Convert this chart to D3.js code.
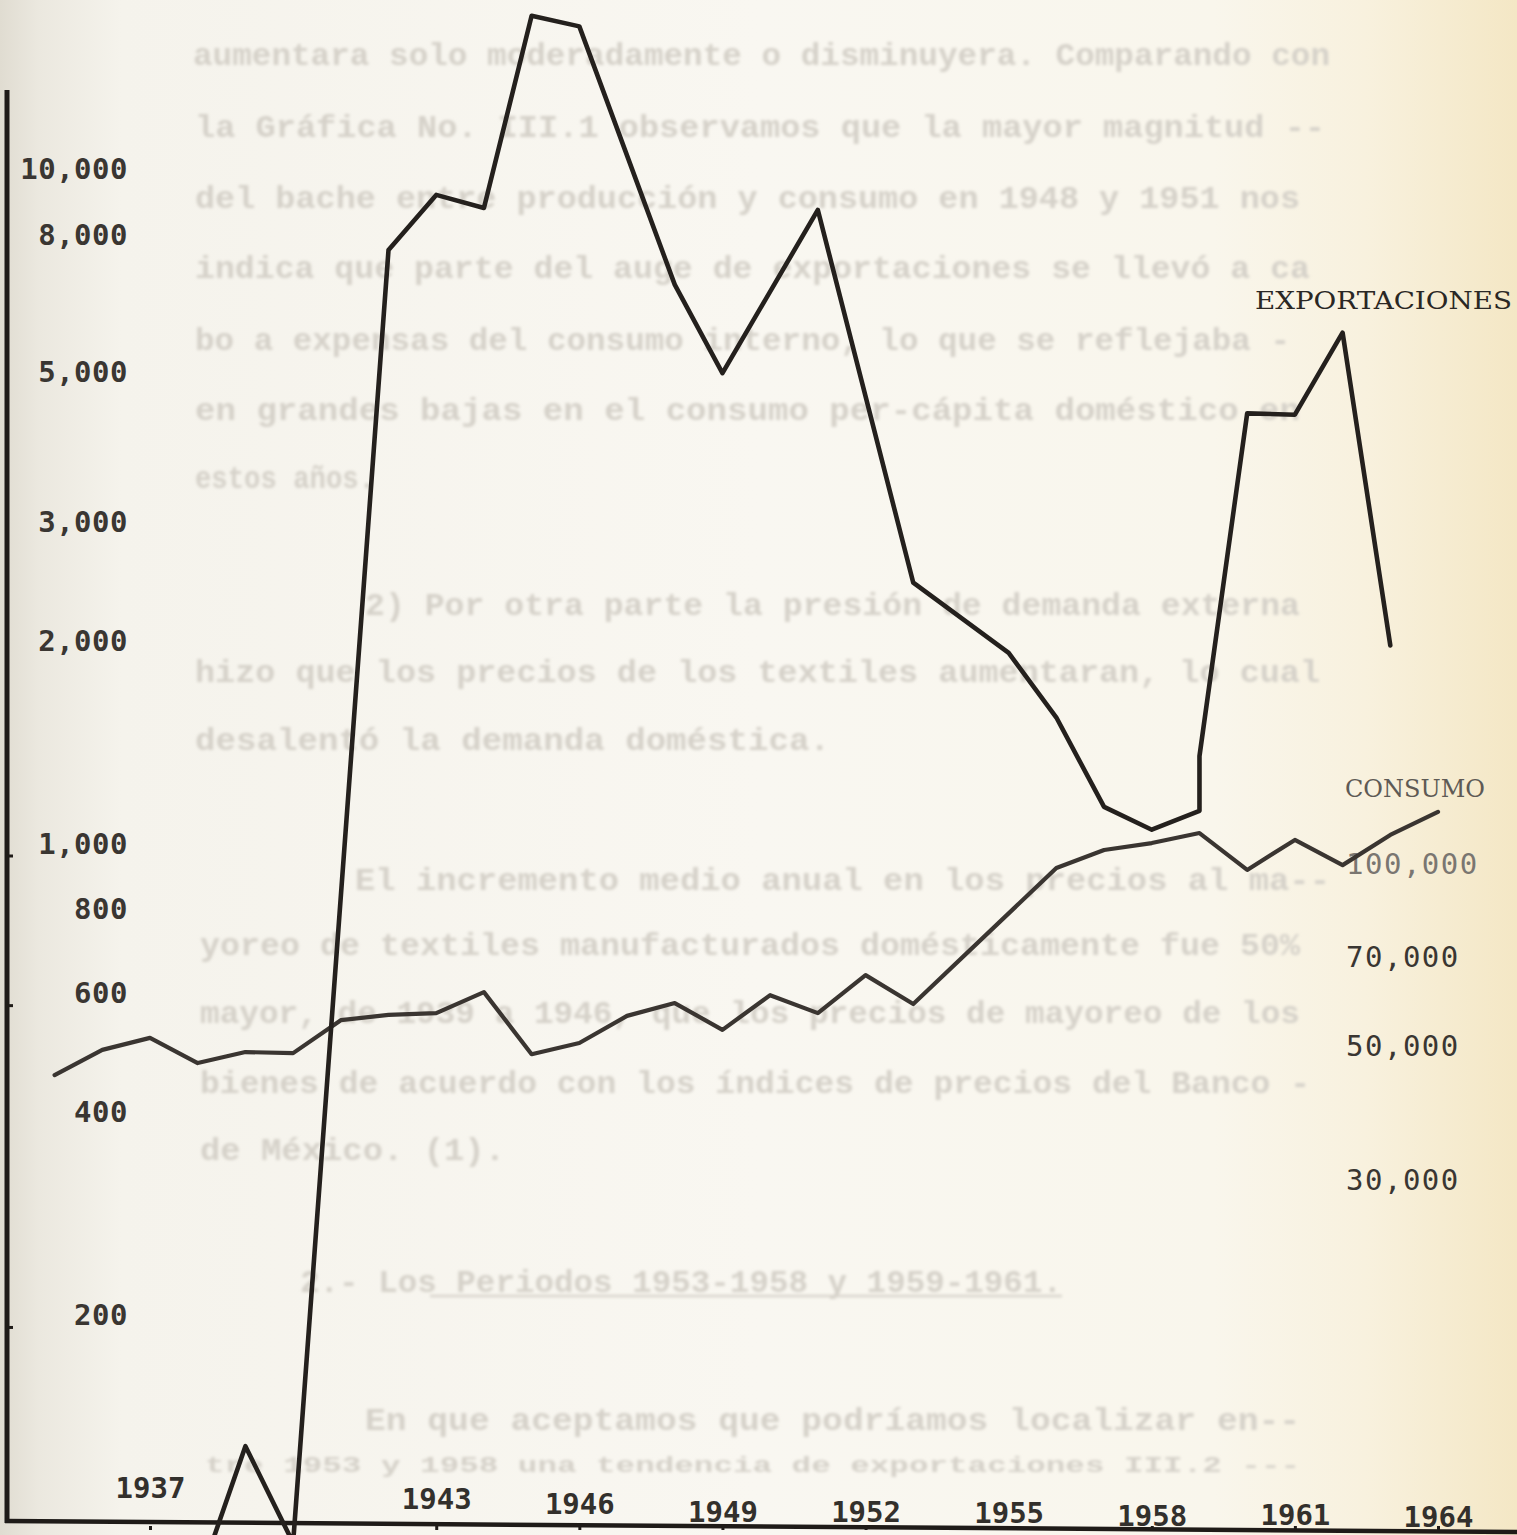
<!DOCTYPE html>
<html>
<head>
<meta charset="utf-8">
<script src="https://cdn.jsdelivr.net/npm/d3@7"></script>
<style>
  html, body { margin: 0; padding: 0; background: #f6f3ec; overflow: hidden; }
  svg { display: block; }
</style>
</head>
<body>
<div id="chart"></div>
<script>
// ---------------- DATA ----------------
const yearTicks = [1937, 1943, 1946, 1949, 1952, 1955, 1958, 1961, 1964];
const leftTicks = [10000, 8000, 5000, 3000, 2000, 1000, 800, 600, 400, 200];
const rightTicks = [100000, 70000, 50000, 30000];

// EXPORTACIONES (left log axis)
const exportYears  = [1938, 1939, 1940, 1942, 1943, 1944, 1945, 1946, 1948, 1949, 1951, 1953, 1955, 1956, 1957, 1958, 1959, 1959, 1960, 1961, 1962, 1963];
const exportValues = [80, 128, 92, 7600, 9170, 8770, 16900, 16300, 6750, 4990, 8710, 2440, 1920, 1540, 1135, 1050, 1120, 1350, 4350, 4330, 5730, 1970];

// CONSUMO (right log axis)
const consumoYears  = [1935, 1936, 1937, 1938, 1939, 1940, 1941, 1942, 1943, 1944, 1945, 1946, 1947, 1948, 1949, 1950, 1951, 1952, 1953, 1956, 1957, 1958, 1959, 1960, 1961, 1962, 1963, 1964];
const consumoValues = [44800, 49300, 51600, 46900, 48900, 48700, 55200, 56300, 56700, 61400, 48500, 50600, 56100, 58900, 53200, 60700, 56700, 65500, 58700, 98400, 105400, 108200, 112400, 97700, 109500, 99500, 111600, 121800];

const seriesLabels = ["EXPORTACIONES", "CONSUMO"];

// faded bleed-through typed text of the page
const pageLines = [
  ["aumentara solo moderadamente o disminuyera. Comparando con", 193, 55, 1137],
  ["la Gráfica No. III.1 observamos que la mayor magnitud --", 195, 127, 1130],
  ["del bache entre producción y consumo en 1948 y 1951  nos", 195, 198, 1105],
  ["indica que parte del auge de exportaciones se llevó a ca", 195, 268, 1115],
  ["bo a expensas del consumo interno, lo que se reflejaba -", 195, 340, 1095],
  ["en grandes bajas en el consumo per-cápita doméstico en", 195, 410, 1105],
  ["estos años.", 195, 478, 180],
  ["2) Por otra parte la presión de demanda externa", 365, 605, 935],
  ["hizo que los precios de los textiles aumentaran, lo cual", 195, 672, 1125],
  ["desalentó la demanda doméstica.", 195, 740, 635],
  ["El incremento medio anual en los precios al ma--", 355, 880, 975],
  ["yoreo de textiles manufacturados domésticamente fue 50%", 200, 945, 1100],
  ["mayor, de 1939 a 1946, que los precios de mayoreo de los", 200, 1013, 1100],
  ["bienes de acuerdo con los índices de precios del Banco -", 200, 1083, 1110],
  ["de México. (1).", 200, 1150, 305],
  ["2.- Los Periodos 1953-1958 y 1959-1961.", 300, 1282, 762],
  ["En que aceptamos que podríamos localizar en--", 365, 1420, 935],
  ["tre 1953 y 1958 una tendencia de exportaciones III.2 ---", 205, 1465, 1095]
];

// ---------------- LAYOUT ----------------
const W = 1517, H = 1535;
const svg = d3.select("#chart").append("svg").attr("width", W).attr("height", H);

const defs = svg.append("defs");
const grad = defs.append("linearGradient").attr("id", "paper").attr("x1", "0").attr("x2", "1").attr("y1", "0").attr("y2", "0");
[["0", "#e0dcd1"], ["0.025", "#ebe8df"], ["0.08", "#f5f3ec"], ["0.5", "#f9f7f1"], ["0.8", "#f9f6ec"], ["0.9", "#f8f1de"], ["1", "#f4e7c5"]]
  .forEach(([o, c]) => grad.append("stop").attr("offset", o).attr("stop-color", c));
const blur = defs.append("filter").attr("id", "soft").attr("x", "-5%").attr("y", "-50%").attr("width", "110%").attr("height", "200%");
blur.append("feGaussianBlur").attr("stdDeviation", 1.8);

svg.append("rect").attr("width", W).attr("height", H).attr("fill", "url(#paper)");

// faded page text
const ghost = svg.append("g").attr("filter", "url(#soft)")
  .attr("font-family", "'Liberation Mono', 'DejaVu Sans Mono', monospace")
  .attr("font-weight", "bold").attr("fill", "#d5d1c9");
ghost.selectAll("text").data(pageLines).join("text")
  .attr("font-size", (d, i) => i === pageLines.length - 1 ? 22 : 31)
  .attr("x", d => d[1]).attr("y", (d, i) => d[2] + (i === pageLines.length - 1 ? 7 : 10))
  .attr("textLength", d => d[3]).attr("lengthAdjust", "spacingAndGlyphs")
  .text(d => d[0]);
ghost.append("line").attr("x1", 430).attr("x2", 1062).attr("y1", 1296).attr("y2", 1296)
  .attr("stroke", "#d8d4cc").attr("stroke-width", 2.5);

// ---------------- SCALES ----------------
const x = d3.scaleLinear().domain([1937, 1964]).range([150, 1438]);
const yL = d3.scaleLog().domain([100, 10000]).range([1518.5, 169.5]);
const yR = d3.scaleLog().domain([30000, 100000]).range([1180.6, 863.8]);

const monoFont = "'DejaVu Sans Mono', 'Liberation Mono', monospace";

// left axis
svg.append("line").attr("x1", 7).attr("x2", 7).attr("y1", 90).attr("y2", 1523)
  .attr("stroke", "#1f1b18").attr("stroke-width", 5);
[1000, 600, 200].forEach(v => svg.append("line").attr("x1", 7).attr("x2", 13)
  .attr("y1", yL(v) + 12).attr("y2", yL(v) + 12).attr("stroke", "#1f1b18").attr("stroke-width", 3));

const leftAxis = svg.append("g").attr("transform", "translate(130,0)")
  .call(d3.axisLeft(yL).tickValues(leftTicks).tickFormat(d3.format(",")).tickSize(0).tickPadding(2));
leftAxis.select(".domain").remove();
leftAxis.selectAll("text").attr("font-family", monoFont).attr("font-size", 29).attr("font-weight", "bold")
  .attr("letter-spacing", 0.5).attr("fill", "#3a3632");

// right axis
const rightAxis = svg.append("g").attr("transform", "translate(1346,0)")
  .call(d3.axisRight(yR).tickValues(rightTicks).tickFormat(d3.format(",")).tickSize(0).tickPadding(0));
rightAxis.select(".domain").remove();
rightAxis.selectAll("text").attr("font-family", monoFont).attr("font-size", 29)
  .attr("letter-spacing", 1.5).attr("fill", d => d === 100000 ? "#7a7671" : "#3a3632");

// bottom axis (labels typed above the line)
svg.append("line").attr("x1", 5).attr("x2", W).attr("y1", 1521).attr("y2", 1532)
  .attr("stroke", "#1f1b18").attr("stroke-width", 4.5);
const yearBaselines = [1498, 1509, 1514, 1522, 1522, 1523, 1526, 1525, 1527];
const bottomAxis = svg.append("g").attr("transform", "translate(0,1530)")
  .call(d3.axisTop(x).tickValues(yearTicks).tickFormat(d3.format("d")).tickSize(4));
bottomAxis.select(".domain").remove();
bottomAxis.selectAll(".tick line").attr("stroke", "#1f1b18").attr("stroke-width", 3);
bottomAxis.selectAll("text").attr("font-family", monoFont).attr("font-size", 29).attr("font-weight", "bold")
  .attr("letter-spacing", 0).attr("fill", "#33302c")
  .attr("dy", null).attr("y", (d, i) => yearBaselines[i] - 1530);

// ---------------- LINES ----------------
const exportData = exportYears.map((yr, i) => ({ yr, v: exportValues[i] }));
const consumoData = consumoYears.map((yr, i) => ({ yr, v: consumoValues[i] }));

svg.append("path").datum(consumoData)
  .attr("fill", "none").attr("stroke", "#3a3531").attr("stroke-width", 4.2)
  .attr("stroke-linejoin", "round").attr("stroke-linecap", "round")
  .attr("d", d3.line().x(d => x(d.yr)).y(d => yR(d.v)).curve(d3.curveLinear));

svg.append("path").datum(exportData)
  .attr("fill", "none").attr("stroke", "#24201d").attr("stroke-width", 4.6)
  .attr("stroke-linejoin", "round").attr("stroke-linecap", "round")
  .attr("d", d3.line().x(d => x(d.yr)).y(d => yL(d.v)));

// series labels (serif typewriter look)
svg.append("text").attr("x", 1255).attr("y", 309).attr("font-family", "'DejaVu Serif', 'Liberation Serif', serif")
  .attr("font-size", 25).attr("fill", "#2a2724").attr("textLength", 257).attr("lengthAdjust", "spacingAndGlyphs")
  .text(seriesLabels[0]);
svg.append("text").attr("x", 1345).attr("y", 797).attr("font-family", "'DejaVu Serif', 'Liberation Serif', serif")
  .attr("font-size", 24).attr("fill", "#5e5a55").attr("textLength", 140).attr("lengthAdjust", "spacingAndGlyphs")
  .text(seriesLabels[1]);
</script>
</body>
</html>
